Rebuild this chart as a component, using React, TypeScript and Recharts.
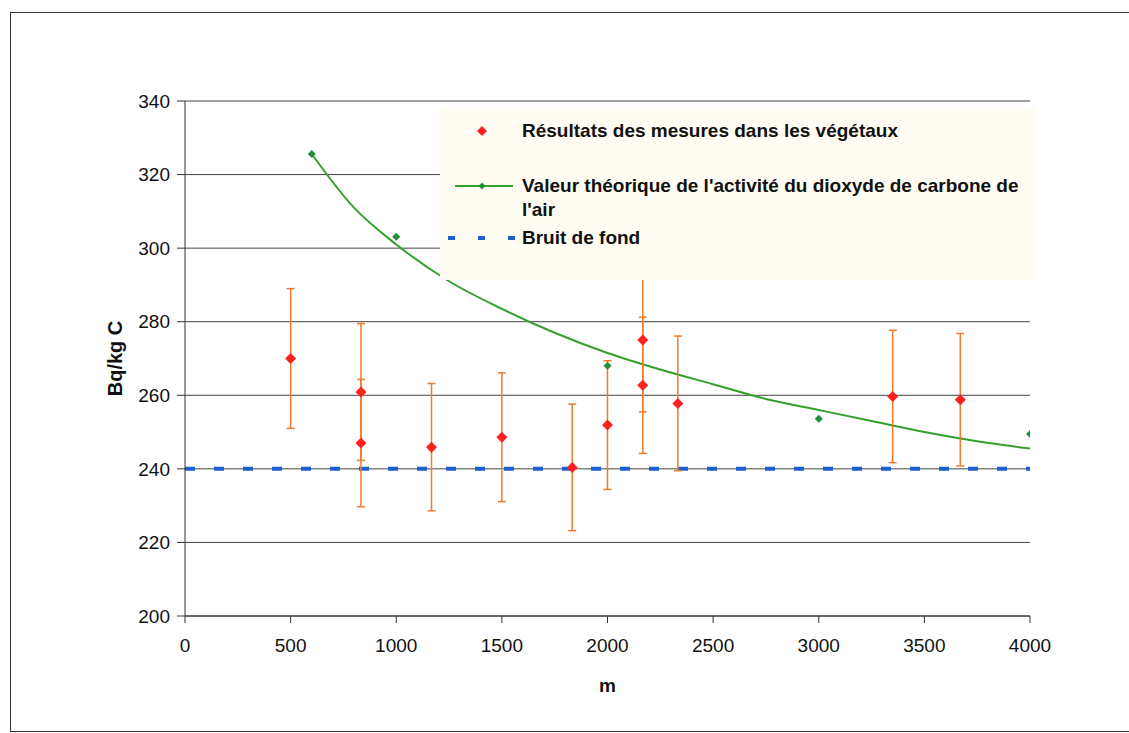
import React from "react";
import {
  ComposedChart,
  Line,
  Scatter,
  XAxis,
  YAxis,
  CartesianGrid,
  ErrorBar,
  Legend,
  Label,
} from "recharts";

const FONT = "'Liberation Sans', Arial, sans-serif";

const xTicks = [0, 500, 1000, 1500, 2000, 2500, 3000, 3500, 4000];
const yTicks = [200, 220, 240, 260, 280, 300, 320, 340];

// Résultats des mesures dans les végétaux (valeur +/- incertitude)
const mesureX = [500, 833, 833, 1167, 1500, 1833, 2000, 2167, 2167, 2333, 3350, 3670];
const mesureY = [270, 260.9, 247, 245.9, 248.6, 240.4, 251.9, 275, 262.7, 257.8, 259.7, 258.8];
const mesureErr = [19, 18.6, 17.3, 17.3, 17.5, 17.2, 17.5, 19.5, 18.5, 18.3, 18, 18];

// Valeur théorique : points
const theoX = [600, 1000, 2000, 3000, 4000];
const theoY = [325.6, 303.1, 268, 253.6, 249.5];

// Valeur théorique : courbe
const courbeX = [600, 800, 1000, 1250, 1500, 1750, 2000, 2250, 2500, 2750, 3000, 3250, 3500, 3750, 4000];
const courbeY = [325.6, 311, 301, 291, 283.5, 277, 271.5, 267, 263, 259, 256, 253, 250, 247.5, 245.5];

// Bruit de fond
const bruitX = [0, 4000];
const bruitY = [240, 240];

const RED = "#ff1f1f";
const ORANGE = "#f07b2c";
const GREEN_LINE = "#34a02c";
const GREEN_DOT = "#1f8f3a";
const BLUE = "#1e5fcf";

const mesures = mesureX.map((x, i) => ({ x, y: mesureY[i], err: mesureErr[i] }));
const theo = theoX.map((x, i) => ({ x, y: theoY[i] }));
const courbe = courbeX.map((x, i) => ({ x, y: courbeY[i] }));
const bruit = bruitX.map((x, i) => ({ x, y: bruitY[i] }));

const diamondPoints = (cx: number, cy: number, r: number) =>
  `${cx},${cy - r} ${cx + r},${cy} ${cx},${cy + r} ${cx - r},${cy}`;

const RedDiamond = (props: any) => (
  <polygon points={diamondPoints(props.cx, props.cy, 5.5)} fill={RED} />
);
const GreenDiamond = (props: any) => (
  <polygon points={diamondPoints(props.cx, props.cy, 4)} fill={GREEN_DOT} />
);

const legendText: React.CSSProperties = {
  position: "absolute",
  left: 82,
  fontFamily: FONT,
  fontWeight: 700,
  fontSize: 19,
  lineHeight: "24px",
  color: "#111",
  whiteSpace: "nowrap",
};

function LegendBox() {
  return (
    <div
      style={{
        position: "relative",
        width: 596,
        height: 172,
        background: "#fffdf3",
        overflow: "hidden",
      }}
    >
      <svg width={80} height={172} style={{ position: "absolute", left: 0, top: 0 }}>
        <polygon points={diamondPoints(42, 23, 5)} fill={RED} />
        <line x1={15} x2={73} y1={78} y2={78} stroke={GREEN_LINE} strokeWidth={2} />
        <polygon points={diamondPoints(42, 78, 3.5)} fill={GREEN_DOT} />
        <line x1={8} x2={76} y1={130} y2={130} stroke={BLUE} strokeWidth={4} strokeDasharray="7 23" />
      </svg>
      <div style={{ ...legendText, top: 11 }}>Résultats des mesures dans les végétaux</div>
      <div style={{ ...legendText, top: 66 }}>
        Valeur théorique de l'activité du dioxyde de carbone de
        <br />
        l'air
      </div>
      <div style={{ ...legendText, top: 118 }}>Bruit de fond</div>
    </div>
  );
}

export default function App() {
  return (
    <div
      style={{
        position: "absolute",
        left: 0,
        top: 0,
        width: 1129,
        height: 733,
        background: "#fff",
        overflow: "hidden",
      }}
    >
      <div
        style={{
          position: "absolute",
          left: 10,
          top: 12,
          width: 1130,
          height: 718,
          borderLeft: "1.5px solid #333",
          borderTop: "1.5px solid #333",
          borderBottom: "1.5px solid #333",
        }}
      />
      <ComposedChart
        width={1129}
        height={733}
        margin={{ top: 101, right: 99, bottom: 41, left: 105 }}
      >
        <CartesianGrid vertical={false} stroke="#444" strokeWidth={1} />
        <XAxis
          type="number"
          dataKey="x"
          domain={[0, 4000]}
          ticks={xTicks}
          allowDataOverflow
          height={76}
          tickSize={7}
          tickMargin={16}
          stroke="#333"
          tick={{ fill: "#111", fontSize: 19, fontFamily: FONT }}
        >
          <Label
            value="m"
            position="insideBottom"
            offset={0}
            style={{ fill: "#111", fontSize: 19, fontWeight: 700, fontFamily: FONT }}
          />
        </XAxis>
        <YAxis
          type="number"
          domain={[200, 340]}
          ticks={yTicks}
          allowDataOverflow
          width={80}
          tickSize={8}
          tickMargin={7}
          stroke="#333"
          tick={{ fill: "#111", fontSize: 19, fontFamily: FONT }}
        >
          <Label
            value="Bq/kg C"
            angle={-90}
            position="insideLeft"
            offset={10}
            style={{ fill: "#111", fontSize: 20, fontWeight: 700, fontFamily: FONT, textAnchor: "middle" }}
          />
        </YAxis>
        <Line
          data={bruit}
          dataKey="y"
          type="linear"
          stroke={BLUE}
          strokeWidth={4}
          strokeDasharray="10 19"
          dot={false}
          isAnimationActive={false}
          name="Bruit de fond"
        />
        <Line
          data={courbe}
          dataKey="y"
          type="monotone"
          stroke={GREEN_LINE}
          strokeWidth={2}
          dot={false}
          isAnimationActive={false}
          name="courbe"
        />
        <Scatter
          data={mesures}
          dataKey="y"
          shape={RedDiamond}
          isAnimationActive={false}
          name="Résultats des mesures dans les végétaux"
        >
          <ErrorBar dataKey="err" direction="y" width={4} stroke={ORANGE} strokeWidth={1.5} />
        </Scatter>
        <Scatter
          data={theo}
          dataKey="y"
          shape={GreenDiamond}
          isAnimationActive={false}
          name="Valeur théorique"
        />
        <Legend
          verticalAlign="middle"
          content={() => <LegendBox />}
          wrapperStyle={{ left: 440, top: 108, width: 596, height: 172, overflow: "hidden" }}
        />
      </ComposedChart>
    </div>
  );
}
